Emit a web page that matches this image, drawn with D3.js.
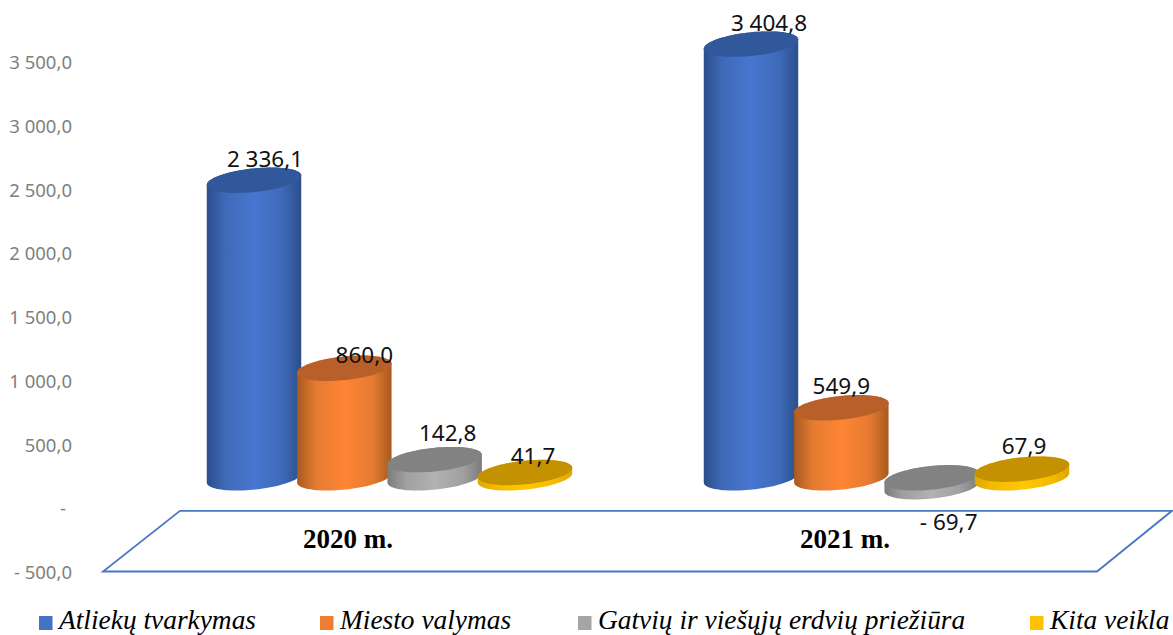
<!DOCTYPE html>
<html><head><meta charset="utf-8">
<style>html,body{margin:0;padding:0;background:#fff;overflow:hidden}svg{display:block}</style>
<script src="https://cdn.jsdelivr.net/npm/d3@7/dist/d3.min.js"></script>
</head><body><svg id="c" width="1173" height="635"></svg>
<script>
const categories = ["2020 m.", "2021 m."];
const seriesNames = ["Atliekų tvarkymas", "Miesto valymas", "Gatvių ir viešųjų erdvių priežiūra", "Kita veikla"];
const atliekuTvarkymas = [2336.1, 3404.8];
const miestoValymas = [860.0, 549.9];
const gatviuPrieziura = [142.8, -69.7];
const kitaVeikla = [41.7, 67.9];
const seriesValues = [atliekuTvarkymas, miestoValymas, gatviuPrieziura, kitaVeikla];
const tickValues = [-500, 0, 500, 1000, 1500, 2000, 2500, 3000, 3500];

// styling per series
const palette = [
  {edge:"#2b4f8c", side:"#3f6ab8", mid:"#4676d0", top:"#31589a", swatch:"#4472c4"},
  {edge:"#a9591f", side:"#e47b31", mid:"#ff8534", top:"#b9602a", swatch:"#ed7d31"},
  {edge:"#7c7c7c", side:"#a0a0a0", mid:"#b2b2b2", top:"#828282", swatch:"#a5a5a5"},
  {edge:"#e0a800", side:"#f4bc00", mid:"#ffc800", top:"#c49200", swatch:"#ffc000"}
];
// label nudges from the top of each cylinder [series][category]
const labelNudge = [
  [[11,-8],[18,-8]],
  [[20,0],[0,-9]],
  [[13,-14],[17,57]],
  [[8,-4],[2,-10]]
];

const fmt = v => {
  const s = Math.abs(v).toFixed(1).replace(".", ",").replace(/\B(?=(\d{3})+(?!\d))/g, " ");
  return (v < 0 ? "- " : "") + s;
};

const svg = d3.select("#c");
const y = d3.scaleLinear().domain([-500, 3500]).range([571.5, 62]);
const groupX = d3.scalePoint().domain(categories).range([389, 886]);
const seriesX = d3.scaleLinear().domain([0, 3]).range([-135, 136]);
const depth = -30;            // 3D wall shift of the bars relative to the axis
const rx = 47.5, ry = 11.8, rad = 6 * Math.PI / 180;
const cosT = Math.cos(rad), sinT = Math.sin(rad);
// point on a tilted ellipse
const ePt = (cx, cy, t) => {
  const a = rx * Math.cos(t), b = ry * Math.sin(t);
  return [cx + a * cosT + b * sinT, cy - a * sinT + b * cosT];
};
const steps = d3.range(0, 49).map(i => i / 48 * Math.PI);
const line = d3.line();

// axis labels
const axis = d3.axisLeft(y).tickValues(tickValues).tickSize(0).tickPadding(0)
  .tickFormat(v => v === 0 ? "-" : fmt(v));
const gAxis = svg.append("g").attr("transform", "translate(72,1)").call(axis);
gAxis.select(".domain").remove();
gAxis.selectAll("text").attr("fill", "#808080").attr("font-family", "'Noto Sans',sans-serif").attr("font-size", 18.5);
gAxis.selectAll(".tick").filter(d => d === 0).select("text").attr("x", -6);

// floor
const floorTop = y(0) + 3, floorBot = y(-500);
svg.append("path")
  .attr("d", line([[180, floorTop], [1172, floorTop], [1097, floorBot], [103, floorBot]]) + "Z")
  .attr("fill", "#fff").attr("stroke", "#4a76c6").attr("stroke-width", 1.8);

svg.selectAll(".cat").data(categories).enter().append("text")
  .attr("x", d => groupX(d) - 41).attr("y", floorTop + 37)
  .attr("text-anchor", "middle").attr("font-family", "'Liberation Serif',serif")
  .attr("font-weight", "bold").attr("font-size", 27).attr("fill", "#000").text(d => d);

// gradients
const defs = svg.append("defs");
palette.forEach((p, i) => {
  const g = defs.append("linearGradient").attr("id", "g" + i);
  [[0, p.edge], [0.2, p.side], [0.5, p.mid], [0.8, p.side], [1, p.edge]].forEach(s =>
    g.append("stop").attr("offset", s[0]).attr("stop-color", s[1]));
});

// cylinders
categories.forEach((c, ci) => {
  seriesValues.forEach((vals, si) => {
    const v = vals[ci], cx = groupX(c) + seriesX(si);
    const yt = y(Math.max(v, 0)) + depth, yb = y(Math.min(v, 0)) + depth;
    const g = svg.append("g").attr("class", "bar");
    const lowerEdge = steps.map(t => ePt(cx, yb, t));            // right to left along the front of the base
    const upperEdge = steps.map(t => ePt(cx, yt, -t));           // right to left along the back of the top
    g.append("path")
      .attr("d", line([...lowerEdge, ...upperEdge.slice().reverse()]) + "Z")
      .attr("fill", `url(#g${si})`);
    g.append("path")
      .attr("d", line([...upperEdge, ...steps.map(t => ePt(cx, yt, Math.PI - t))]) + "Z")
      .attr("fill", palette[si].top);
  });
});
// value labels above the marks
categories.forEach((c, ci) => {
  seriesValues.forEach((vals, si) => {
    const v = vals[ci], cx = groupX(c) + seriesX(si);
    const yt = y(Math.max(v, 0)) + depth, n = labelNudge[si][ci];
    svg.append("text").attr("x", cx + n[0]).attr("y", yt - ry + n[1] + 7)
      .attr("text-anchor", "middle").attr("font-family", "'Noto Sans',sans-serif")
      .attr("font-size", 22.5).attr("fill", "#111").text(fmt(v));
  });
});

// legend
const legendX = [39, 320, 578, 1030];
seriesNames.forEach((n, i) => {
  svg.append("rect").attr("x", legendX[i]).attr("y", 616).attr("width", 13.5).attr("height", 14).attr("fill", palette[i].swatch);
  svg.append("text").attr("x", legendX[i] + 20).attr("y", 629)
    .attr("font-family", "'Liberation Serif',serif").attr("font-style", "italic")
    .attr("font-size", 27.4).attr("fill", "#000").text(n);
});
</script></body></html>
